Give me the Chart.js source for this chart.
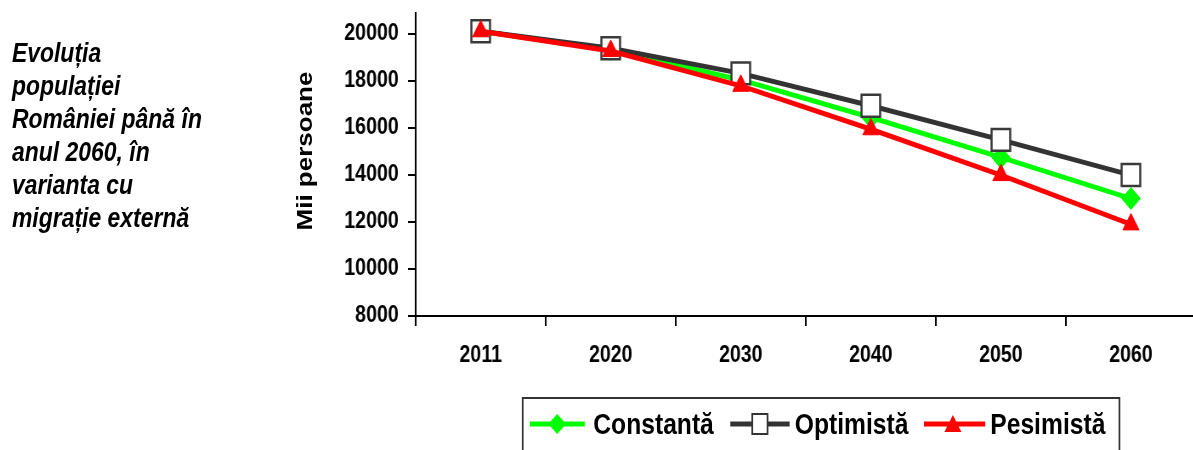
<!DOCTYPE html>
<html>
<head>
<meta charset="utf-8">
<script src="https://cdn.jsdelivr.net/npm/chart.js@4.4.0/dist/chart.umd.min.js"></script>
<style>
    html, body { margin: 0; padding: 0; background: #fff; }
    body {
        width: 1193px; height: 450px; overflow: hidden; position: relative;
        font-family: "Liberation Sans", Arial, sans-serif; color: #000;
    }
    /* the original picture is squeezed sideways, so the whole stage is too */
    #stage {
        position: absolute; left: 0; top: 0; width: 1404px; height: 450px;
        transform: scaleX(0.85); transform-origin: 0 0;
    }
    #title {
        position: absolute; left: 14px; top: 37px;
        font-size: 27px; font-weight: bold; font-style: italic; line-height: 33px;
    }
    #ytitle {
        position: absolute; left: 359px; top: 151px;
        transform: translate(-50%, -50%) rotate(-90deg);
        font-size: 26px; font-weight: bold; white-space: nowrap;
    }
    #chart-wrap { position: absolute; left: 320px; top: 0; }
    #legend {
        position: absolute; left: 614px; top: 397px; width: 704px; height: 70px;
        border: 2px solid #333; box-sizing: border-box; background: #fff;
    }
    #legend svg, #legend span { position: absolute; top: 8px; }
    #legend span { font-size: 29px; font-weight: bold; line-height: 34px; white-space: nowrap; }
</style>
</head>
<body>
<div id="stage">
    <div id="title">Evoluția<br>populației<br>României până în<br>anul 2060, în<br>varianta cu<br>migrație externă</div>
    <div id="ytitle">Mii persoane</div>
    <div id="chart-wrap"><canvas id="chart" width="1090" height="392"></canvas></div>
    <div id="legend">
        <svg style="left:7px" width="66" height="34">
            <line x1="0" y1="17" x2="65" y2="17" stroke="#00ff00" stroke-width="5"/>
            <polygon points="32.5,7 43,17 32.5,27 22,17" fill="#00ff00"/>
        </svg>
        <span style="left:82px">Constantă</span>
        <svg style="left:243px" width="72" height="34">
            <line x1="0" y1="17" x2="70" y2="17" stroke="#333" stroke-width="5"/>
            <rect x="26" y="7" width="18" height="20" fill="#fff" stroke="#333" stroke-width="2"/>
        </svg>
        <span style="left:319px">Optimistă</span>
        <svg style="left:471px" width="74" height="34">
            <line x1="0" y1="17" x2="72" y2="17" stroke="#ff0000" stroke-width="5"/>
            <polygon points="34,8 44,25 24,25" fill="#ff0000"/>
        </svg>
        <span style="left:549px">Pesimistă</span>
    </div>
</div>
<script>
    // Data (thousand persons)
    const years = ['2011', '2020', '2030', '2040', '2050', '2060'];
    const constanta = [20121, 19330, 18050, 16450, 14750, 13000];
    const optimista = [20121, 19400, 18330, 16950, 15500, 14000];
    const pesimista = [20121, 19280, 17800, 15950, 14000, 11900];
    const yTicks = [8000, 10000, 12000, 14000, 16000, 18000, 20000];

    const fontFamily = '"Liberation Sans", Arial, sans-serif';

    const chart = new Chart(document.getElementById('chart'), {
        type: 'line',
        data: {
            labels: years,
            datasets: [{
                label: 'Constantă',
                data: constanta,
                borderColor: '#00ff00',
                backgroundColor: '#00ff00',
                borderWidth: 5,
                pointStyle: 'rectRot',
                pointRadius: 11,
                pointBackgroundColor: '#00ff00',
                pointBorderColor: '#00ff00',
                pointBorderWidth: 1,
                order: 3
            }, {
                label: 'Optimistă',
                data: optimista,
                borderColor: '#333333',
                backgroundColor: '#ffffff',
                borderWidth: 5,
                pointStyle: 'rect',
                pointRadius: 15.5,
                pointBackgroundColor: '#ffffff',
                pointBorderColor: '#3a3a3a',
                pointBorderWidth: 2.5,
                order: 2
            }, {
                label: 'Pesimistă',
                data: pesimista,
                borderColor: '#ff0000',
                backgroundColor: '#ff0000',
                borderWidth: 5,
                pointStyle: 'triangle',
                pointRadius: 11,
                pointBackgroundColor: '#ff0000',
                pointBorderColor: '#ff0000',
                pointBorderWidth: 1,
                order: 1
            }]
        },
        options: {
            responsive: false,
            animation: false,
            devicePixelRatio: 1,
            clip: false,
            layout: {
                autoPadding: false,
                padding: { top: 13, right: 3, left: 0, bottom: 0 }
            },
            plugins: {
                legend: { display: false },
                tooltip: { enabled: false }
            },
            scales: {
                x: {
                    offset: true,
                    grid: {
                        offset: true,
                        drawOnChartArea: false,
                        drawTicks: true,
                        tickLength: 10,
                        color: '#000',
                        lineWidth: 2
                    },
                    border: { color: '#000', width: 2 },
                    ticks: {
                        color: '#000',
                        font: { family: fontFamily, size: 23, weight: 'bold' },
                        padding: 16,
                        maxRotation: 0,
                        autoSkip: false
                    },
                    afterFit: function(scale) {
                        scale.height = 76;
                        scale.paddingLeft = 0;
                        scale.paddingRight = 0;
                    }
                },
                y: {
                    min: 8000,
                    max: 20900,
                    afterBuildTicks: function(axis) {
                        axis.ticks = yTicks.map(v => ({ value: v }));
                    },
                    grid: {
                        drawOnChartArea: false,
                        drawTicks: true,
                        tickLength: 9,
                        color: '#000',
                        lineWidth: 2
                    },
                    border: { color: '#000', width: 2 },
                    ticks: {
                        color: '#000',
                        font: { family: fontFamily, size: 23, weight: 'bold' },
                        padding: 11,
                        callback: function(value) { return String(value); }
                    },
                    afterFit: function(scale) {
                        scale.width = 169;
                        scale.paddingTop = 0;
                        scale.paddingBottom = 0;
                    }
                }
            }
        }
    });
</script>
</body>
</html>
